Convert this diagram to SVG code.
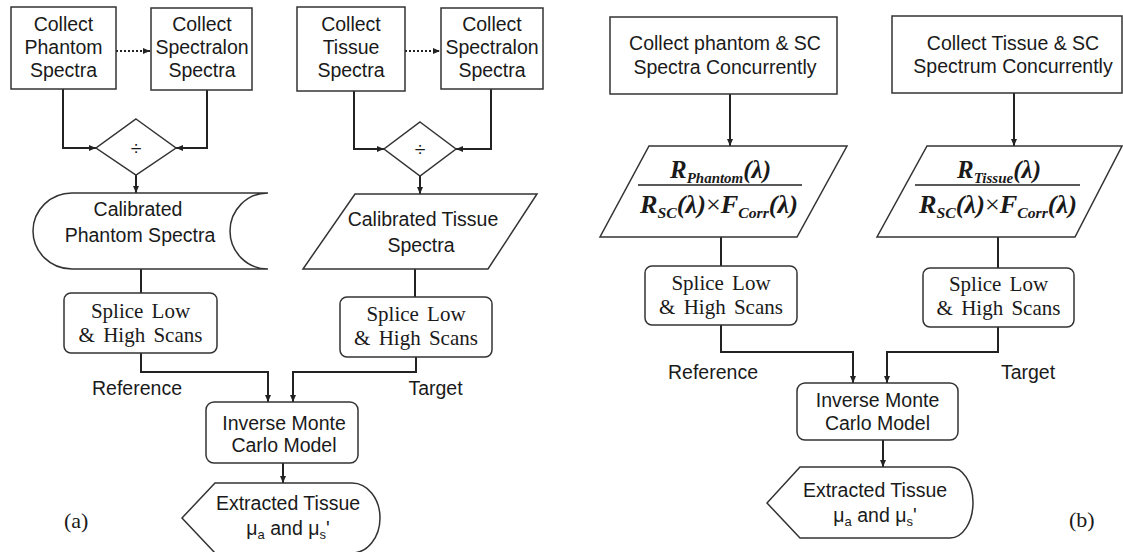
<svg xmlns="http://www.w3.org/2000/svg" width="1123" height="552" viewBox="0 0 1123 552">
<style>
.bg{fill:#fff}
.node{fill:#fff;stroke:#333;stroke-width:1.5}
.t{font-family:"Liberation Sans",Arial,sans-serif;font-size:19.5px;fill:#1a1a1a;text-anchor:middle}
.s{font-family:"Liberation Serif","Times New Roman",serif;font-size:21px;fill:#1a1a1a;text-anchor:middle;word-spacing:3px}
.f{font-family:"Liberation Serif","Times New Roman",serif;font-size:25px;font-style:italic;font-weight:bold;fill:#1a1a1a;text-anchor:middle}
.sub{font-size:15px}
.lab{font-family:"Liberation Serif","Times New Roman",serif;font-size:22px;fill:#1a1a1a}
.conn{fill:none;stroke:#222;stroke-width:2}
.dot{stroke-dasharray:2 2}
.frac{stroke:#222;stroke-width:1.5}
</style>
<defs>
<marker id="ah" markerWidth="8" markerHeight="8" refX="7" refY="4" orient="auto" markerUnits="userSpaceOnUse">
<path d="M0,1 L7,4 L0,7 Z" fill="#222"/>
</marker>
</defs>
<rect class="bg" x="0" y="0" width="1123" height="552"/>

<g id="connectors">
<path class="conn dot" d="M116,51 H150" marker-end="url(#ah)"/>
<path class="conn dot" d="M405,51 H440" marker-end="url(#ah)"/>
<path class="conn" d="M63,89 V148 H96" marker-end="url(#ah)"/>
<path class="conn" d="M207,90 V148 H176" marker-end="url(#ah)"/>
<path class="conn" d="M136,175 V193" marker-end="url(#ah)"/>
<path class="conn" d="M354,91 V149 H384" marker-end="url(#ah)"/>
<path class="conn" d="M491,89 V149 H456" marker-end="url(#ah)"/>
<path class="conn" d="M420,176 V194" marker-end="url(#ah)"/>
<path class="conn" d="M141,269 V293"/>
<path class="conn" d="M415,269 V297"/>
<path class="conn" d="M141,353 V372 H268 V402" marker-end="url(#ah)"/>
<path class="conn" d="M416,357 V372 H293 V402" marker-end="url(#ah)"/>
<path class="conn" d="M283,463 V483" marker-end="url(#ah)"/>
<path class="conn" d="M730,94 V146" marker-end="url(#ah)"/>
<path class="conn" d="M1014,93 V146" marker-end="url(#ah)"/>
<path class="conn" d="M721,237 V266"/>
<path class="conn" d="M998,237 V268"/>
<path class="conn" d="M721,325 V352 H853 V383" marker-end="url(#ah)"/>
<path class="conn" d="M998,327 V352 H887 V383" marker-end="url(#ah)"/>
<path class="conn" d="M883,440 V467" marker-end="url(#ah)"/>
</g>

<g id="a-collect-phantom">
<rect class="node" x="11" y="7" width="105" height="82"/>
<text class="t" x="63.5" y="31">Collect</text>
<text class="t" x="63.5" y="54">Phantom</text>
<text class="t" x="63.5" y="77">Spectra</text>
</g>
<g id="a-collect-spectralon-1">
<rect class="node" x="151" y="8" width="101" height="82"/>
<text class="t" x="202" y="31">Collect</text>
<text class="t" x="202" y="54">Spectralon</text>
<text class="t" x="202" y="77">Spectra</text>
</g>
<g id="a-collect-tissue">
<rect class="node" x="297" y="7" width="108" height="84"/>
<text class="t" x="351" y="31">Collect</text>
<text class="t" x="351" y="54">Tissue</text>
<text class="t" x="351" y="77">Spectra</text>
</g>
<g id="a-collect-spectralon-2">
<rect class="node" x="441" y="8" width="102" height="81"/>
<text class="t" x="492" y="31">Collect</text>
<text class="t" x="492" y="54">Spectralon</text>
<text class="t" x="492" y="77">Spectra</text>
</g>
<g id="a-divide-1">
<path class="node" d="M136,119 L176,148 L136,175 L96,148 Z"/>
<text class="t" x="136" y="155">÷</text>
</g>
<g id="a-divide-2">
<path class="node" d="M420,122 L456,149 L420,176 L384,149 Z"/>
<text class="t" x="420" y="156">÷</text>
</g>
<g id="a-calibrated-phantom">
<path class="node" d="M72,193 H268 A38,38 0 0 0 268,269 H72 A39,38 0 0 1 72,193 Z"/>
<text class="t" x="138" y="216">Calibrated</text>
<text class="t" x="140" y="242">Phantom Spectra</text>
</g>
<g id="a-calibrated-tissue">
<path class="node" d="M355,194 H537 L488,269 H303 Z"/>
<text class="t" x="423" y="226">Calibrated Tissue</text>
<text class="t" x="421" y="252">Spectra</text>
</g>
<g id="a-splice-1">
<rect class="node" x="64" y="293" width="153" height="60" rx="7"/>
<text class="s" x="140.5" y="318">Splice Low</text>
<text class="s" x="140.5" y="342">&amp; High Scans</text>
</g>
<g id="a-splice-2">
<rect class="node" x="340" y="297" width="152" height="60" rx="7"/>
<text class="s" x="416" y="321">Splice Low</text>
<text class="s" x="416" y="345">&amp; High Scans</text>
</g>
<g id="a-labels">
<text class="t" x="137" y="395">Reference</text>
<text class="t" x="435.5" y="395">Target</text>
</g>
<g id="a-inverse">
<rect class="node" x="206" y="402" width="152" height="61" rx="8"/>
<text class="t" x="284" y="430">Inverse Monte</text>
<text class="t" x="284" y="452">Carlo Model</text>
</g>
<g id="a-extracted">
<path class="node" d="M182,518 L215,483 H352 A28,35 0 0 1 352,553 H215 Z"/>
<text class="t" x="288" y="510">Extracted Tissue</text>
<text class="t" x="288" y="535">μ<tspan font-size="13" dy="4">a</tspan><tspan dy="-4"> and μ</tspan><tspan font-size="13" dy="4">s</tspan><tspan dy="-4">'</tspan></text>
</g>
<text class="lab" x="64" y="528">(a)</text>

<g id="b-collect-phantom">
<rect class="node" x="610" y="17" width="227" height="77"/>
<text class="t" x="725" y="50">Collect phantom &amp; SC</text>
<text class="t" x="725" y="74">Spectra Concurrently</text>
</g>
<g id="b-collect-tissue">
<rect class="node" x="892" y="16" width="230" height="77"/>
<text class="t" x="1013" y="50">Collect Tissue &amp; SC</text>
<text class="t" x="1013" y="73">Spectrum Concurrently</text>
</g>
<g id="b-ratio-phantom">
<path class="node" d="M649,146 H847 L797,237 H600 Z"/>
<text class="f" x="720.5" y="178" textLength="101" lengthAdjust="spacingAndGlyphs">R<tspan class="sub" dy="5">Phantom</tspan><tspan dy="-5">(λ)</tspan></text>
<line class="frac" x1="638" y1="185" x2="802" y2="185"/>
<text class="f" x="719" y="213" textLength="158" lengthAdjust="spacingAndGlyphs">R<tspan class="sub" dy="5">SC</tspan><tspan dy="-5">(λ)</tspan><tspan font-style="normal" font-weight="normal">×</tspan>F<tspan class="sub" dy="5">Corr</tspan><tspan dy="-5">(λ)</tspan></text>
</g>
<g id="b-ratio-tissue">
<path class="node" d="M927,146 H1122 L1075,237 H877 Z"/>
<text class="f" x="999" y="178" textLength="84" lengthAdjust="spacingAndGlyphs">R<tspan class="sub" dy="5">Tissue</tspan><tspan dy="-5">(λ)</tspan></text>
<line class="frac" x1="915" y1="185" x2="1080" y2="185"/>
<text class="f" x="998" y="213" textLength="158" lengthAdjust="spacingAndGlyphs">R<tspan class="sub" dy="5">SC</tspan><tspan dy="-5">(λ)</tspan><tspan font-style="normal" font-weight="normal">×</tspan>F<tspan class="sub" dy="5">Corr</tspan><tspan dy="-5">(λ)</tspan></text>
</g>
<g id="b-splice-1">
<rect class="node" x="645" y="266" width="152" height="59" rx="7"/>
<text class="s" x="721" y="290">Splice Low</text>
<text class="s" x="721" y="314">&amp; High Scans</text>
</g>
<g id="b-splice-2">
<rect class="node" x="923" y="268" width="151" height="59" rx="7"/>
<text class="s" x="998.5" y="291">Splice Low</text>
<text class="s" x="998.5" y="315">&amp; High Scans</text>
</g>
<g id="b-labels">
<text class="t" x="713" y="379">Reference</text>
<text class="t" x="1028" y="379">Target</text>
</g>
<g id="b-inverse">
<rect class="node" x="797" y="383" width="161" height="57" rx="8"/>
<text class="t" x="877.5" y="407">Inverse Monte</text>
<text class="t" x="877.5" y="430">Carlo Model</text>
</g>
<g id="b-extracted">
<path class="node" d="M767,503 L800,467 H950 A23,35.5 0 0 1 950,538 H800 Z"/>
<text class="t" x="875" y="497">Extracted Tissue</text>
<text class="t" x="875" y="522">μ<tspan font-size="13" dy="4">a</tspan><tspan dy="-4"> and μ</tspan><tspan font-size="13" dy="4">s</tspan><tspan dy="-4">'</tspan></text>
</g>
<text class="lab" x="1069" y="527">(b)</text>
</svg>
